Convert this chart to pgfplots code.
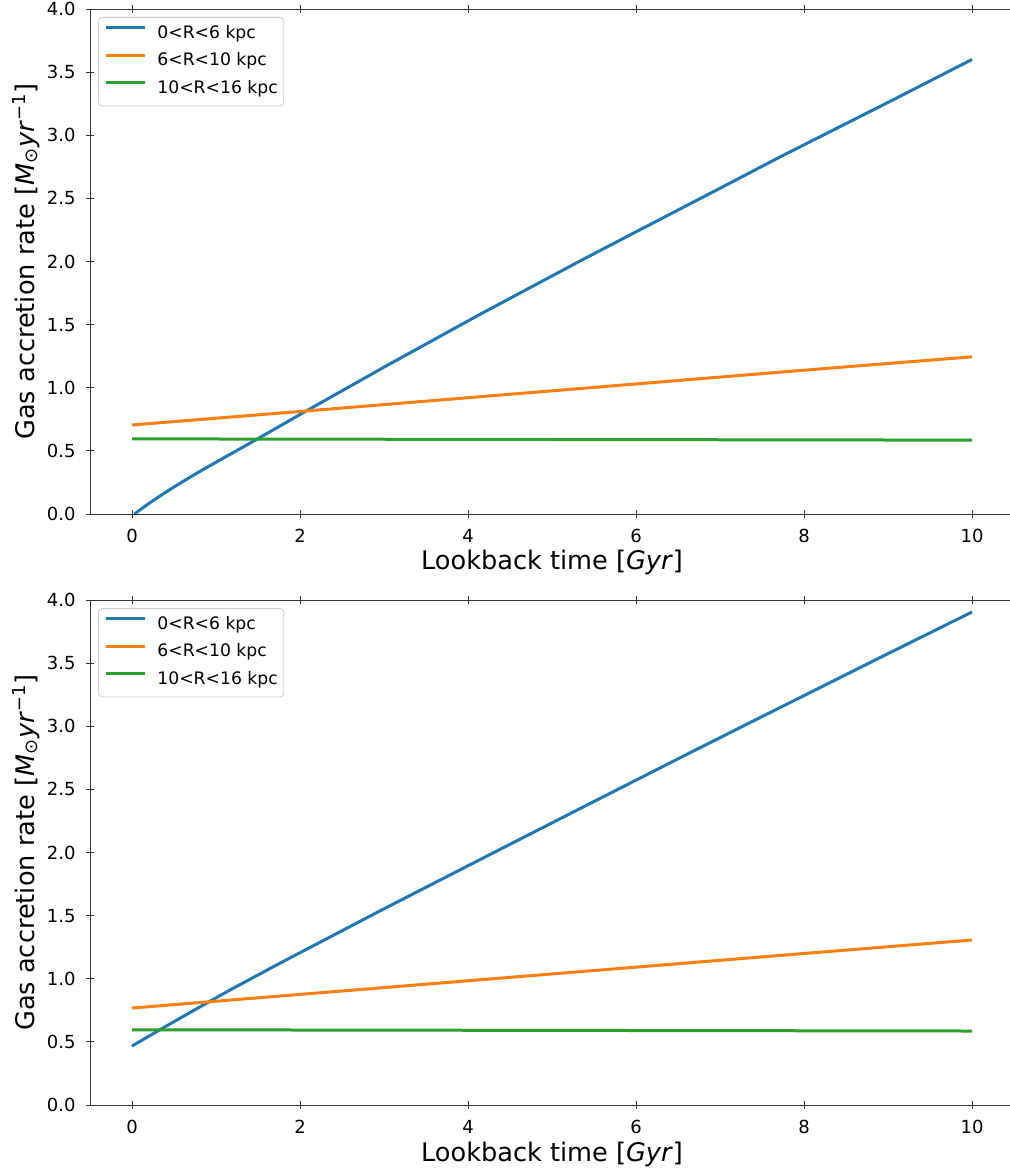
\documentclass[border=0pt]{standalone}
\usepackage{pgfplots}
\pgfplotsset{compat=1.18}
\usepackage{fontspec}
\setmainfont{DejaVu Sans}
\definecolor{c1}{HTML}{1F77B4}
\definecolor{c2}{HTML}{FF7F0E}
\definecolor{c3}{HTML}{2CA02C}
\pgfplotsset{myaxis/.style={
  scale only axis, width=462pt, height=252.5pt,
  xmin=-0.5, xmax=10.5, ymin=0, ymax=4,
  xtick={0,2,4,6,8,10}, ytick={0,0.5,1,1.5,2,2.5,3,3.5,4},
  /pgf/number format/assume math mode=true,
  y tick label style={/pgf/number format/.cd, fixed, fixed zerofill, precision=1, /tikz/.cd},
  tick label style={font=\fontsize{9}{10}\selectfont},
  xticklabel style={inner sep=0pt, yshift=-5.5pt},
  yticklabel style={inner sep=0pt, xshift=-5pt},
  tick align=center, major tick length=4pt,
  xtick pos=both, ytick pos=both,
  x axis line style={color=black!40},
  y axis line style={color=black!80},
  tick style={color=black!80, line width=0.4pt},
  xlabel={Lookback time [\textit{Gyr}]},
  ylabel={Gas accretion rate [\textit{M}\textsubscript{⊙}\textit{yr}\textsuperscript{−1}]},
  label style={font=\fontsize{12.8}{14}\selectfont},
  xlabel style={at={(axis description cs:0.5,-0.1109)}, anchor=base},
  ylabel style={at={(axis description cs:-0.0693,0.5)}, anchor=center},
  legend style={at={(axis description cs:0.00866,0.98416)}, anchor=north west,
    draw=black!20, rounded corners=2pt, fill=white, fill opacity=0.8, text opacity=1,
    font=\fontsize{8.6}{10}\selectfont, inner xsep=3pt, inner ysep=4.2pt,
    row sep=5.5pt, column sep=5.5pt,
    nodes={inner sep=0pt, text height=6.3pt, text depth=2pt}},
  legend cell align=left,
  legend image code/.code={\draw[#1, line width=1.5pt] (0pt,3.25pt) -- (19.5pt,3.25pt);},
  every axis plot/.append style={line width=1.5pt, no marks},
}}
\pgfplotstableread{
x y
0.03 0.0
0.1 0.035
0.2 0.083
0.3 0.128
0.45 0.193
0.6 0.255
0.8 0.334
1.0 0.41
1.455 0.58
1.77 0.70
2.0 0.788
3.0 1.163
4.15 1.584
5.34 2.006
6.0 2.235
7.0 2.58
7.72 2.83
9.0 3.26
10.0 3.60
}\topblue
\pgfplotstableread{
x y
0 0.705
2 0.812
4 0.921
6 1.030
8 1.139
10 1.245
}\toporange
\pgfplotstableread{
x y
0 0.595
2 0.593
4 0.591
6 0.589
8 0.587
10 0.585
}\topgreen
\pgfplotstableread{
x y
0 0.467
0.4 0.622
0.8 0.774
1.2 0.923
1.772 1.127
3.0 1.554
4.15 1.946
5.34 2.35
6.5 2.742
7.72 3.15
9.0 3.575
10.0 3.905
}\botblue
\pgfplotstableread{
x y
0 0.768
2 0.876
4 0.984
6 1.092
8 1.200
10 1.307
}\botorange
\pgfplotstableread{
x y
0 0.595
2 0.594
4 0.592
6 0.590
8 0.588
10 0.586
}\botgreen
\begin{document}
\begin{tikzpicture}
\begin{axis}[myaxis, at={(45pt,328.5pt)}, anchor=south west]
\addplot[c1] table {\topblue};
\addlegendentry{0<R<6 kpc}
\addplot[c2] table {\toporange};
\addlegendentry{6<R<10 kpc}
\addplot[c3] table {\topgreen};
\addlegendentry{10<R<16 kpc}
\end{axis}
\begin{axis}[myaxis, at={(45pt,33pt)}, anchor=south west]
\addplot[c1] table {\botblue};
\addlegendentry{0<R<6 kpc}
\addplot[c2] table {\botorange};
\addlegendentry{6<R<10 kpc}
\addplot[c3] table {\botgreen};
\addlegendentry{10<R<16 kpc}
\end{axis}
\pgfresetboundingbox
\path[use as bounding box] (0,0) rectangle (504.5pt,585.5pt);
\end{tikzpicture}
\end{document}
